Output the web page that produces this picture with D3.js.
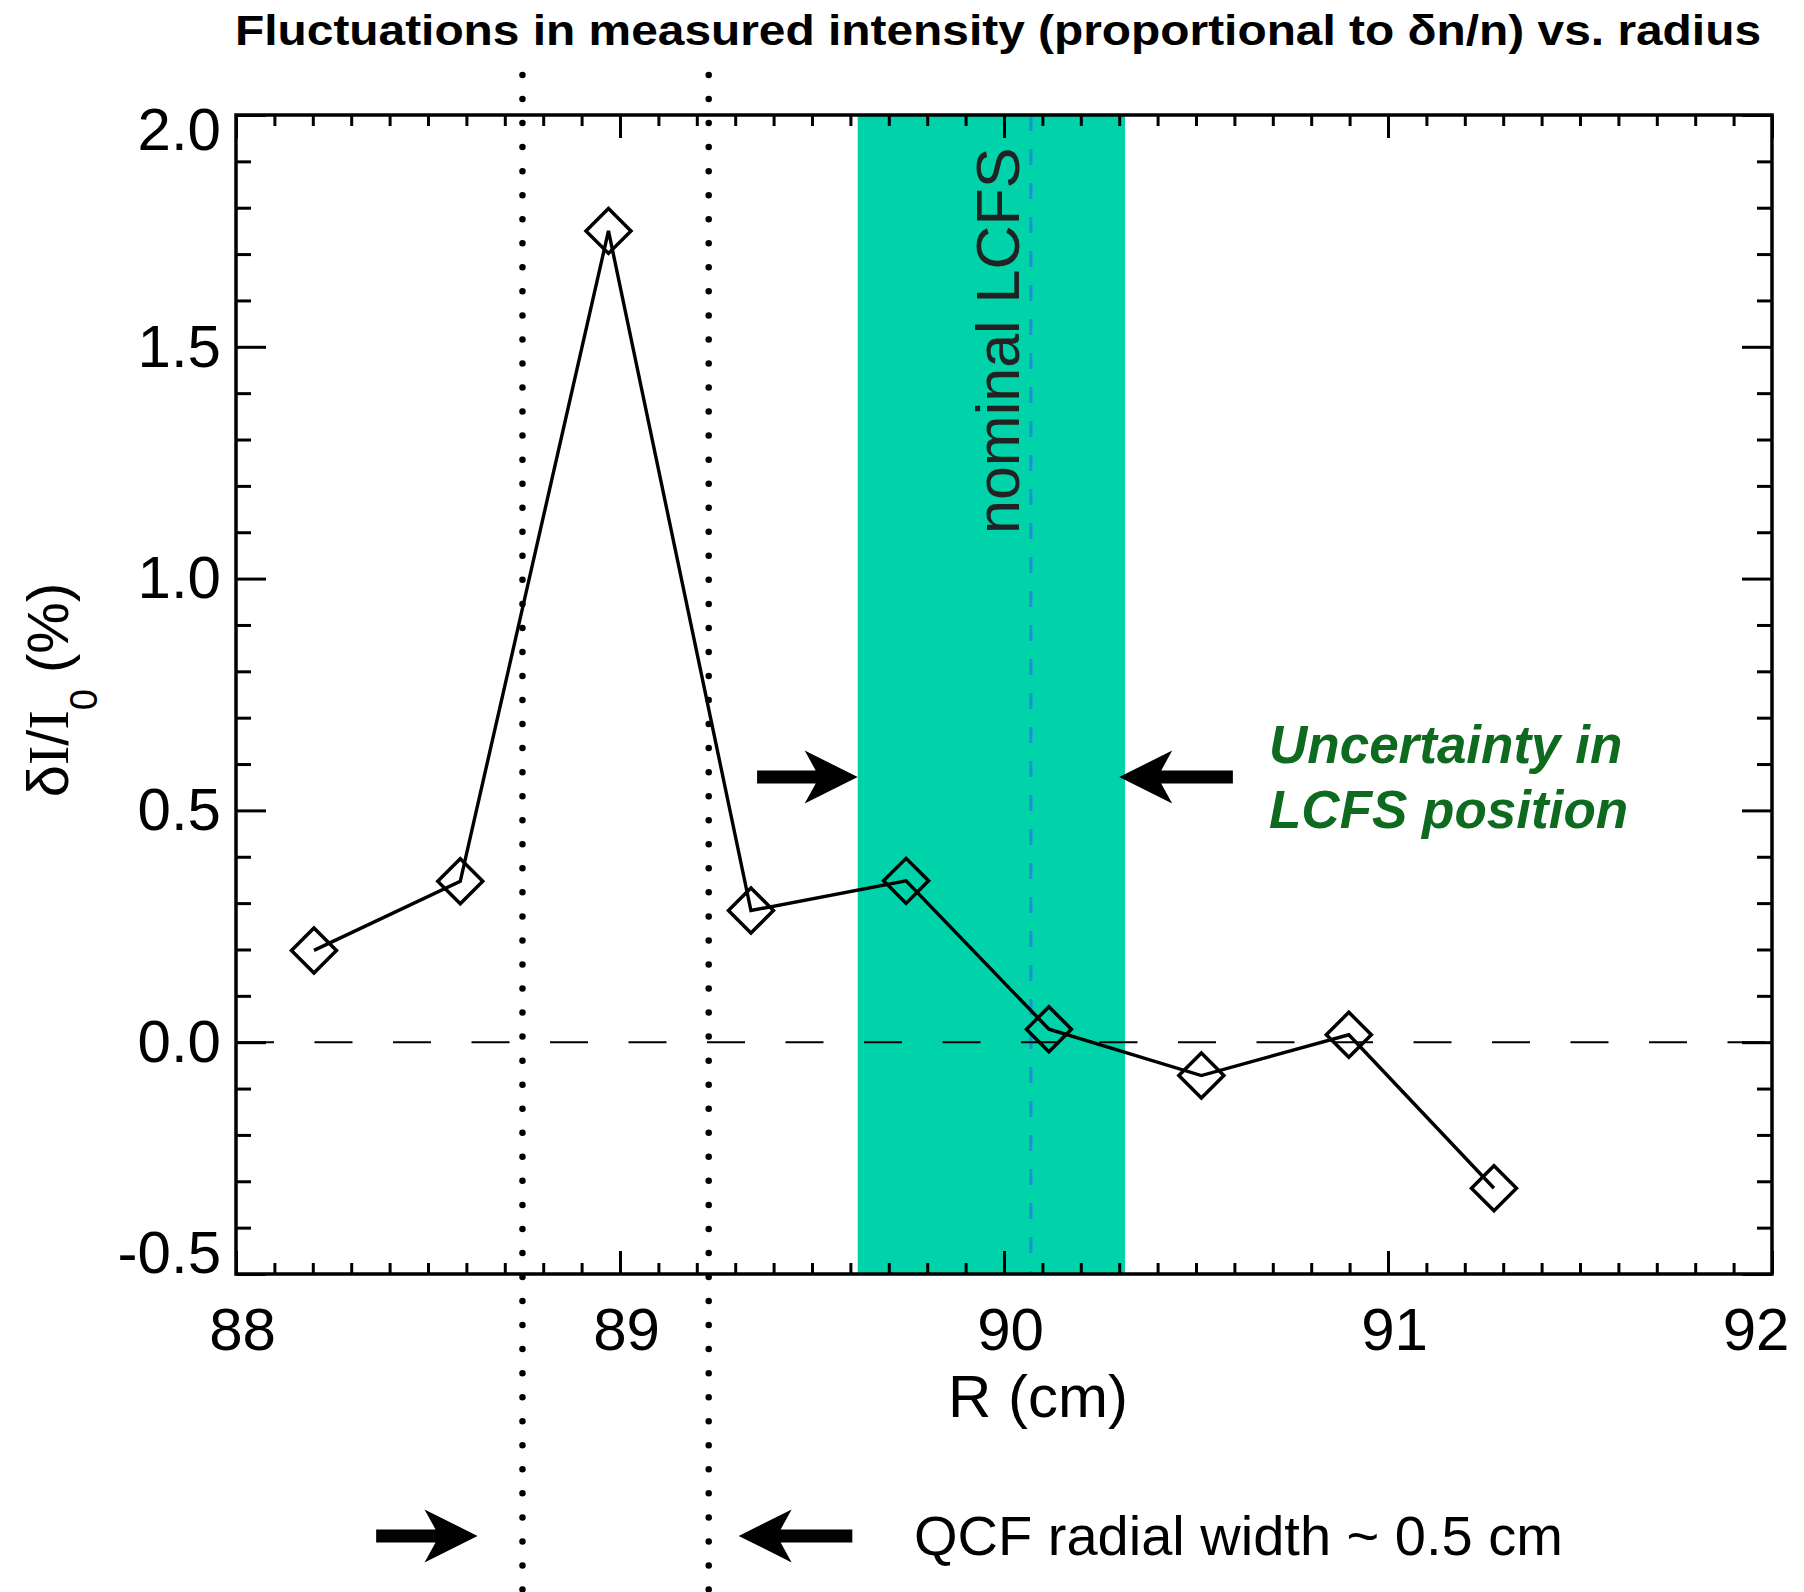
<!DOCTYPE html>
<html>
<head>
<meta charset="utf-8">
<script src="https://cdn.jsdelivr.net/npm/d3@7"></script>
<style>
  body { margin: 0; background: #fff; }
  text { font-family: "Liberation Sans", Arial, Helvetica, sans-serif; }
</style>
</head>
<body>
<div class="chart"></div>
<script>
// data
const radius = [88.203, 88.584, 88.970, 89.341, 89.745, 90.117, 90.514, 90.898, 91.276];
const deltaI = [0.198, 0.347, 1.750, 0.284, 0.348, 0.028, -0.072, 0.016, -0.315];

const xTicks = [88, 89, 90, 91, 92];
const yTicks = [-0.5, 0.0, 0.5, 1.0, 1.5, 2.0];

const qcfEdges = [88.746, 89.231];      // dotted lines
const lcfsBand = [89.619, 90.315];      // uncertainty band
const lcfsNominal = 90.07;              // blue dashed line

// arrows: [tail, tip, level]
const lcfsArrows = [[89.357, 89.619, 0.572], [90.596, 90.30, 0.572]];
const qcfArrows = [[88.365, 88.629, -1.065], [89.605, 89.309, -1.065]];

const WIDTH = 1804;
const HEIGHT = 1592;
const LEFT = 236, RIGHT = 1772, TOP = 115, BOTTOM = 1274;

const svg = d3.select(".chart")
  .append("svg")
  .attr("width", WIDTH)
  .attr("height", HEIGHT);

const x = d3.scaleLinear().domain([88, 92]).range([LEFT, RIGHT]);
const y = d3.scaleLinear().domain([-0.5, 2.0]).range([BOTTOM, TOP]);

// title
svg.append("text")
  .attr("x", 235)
  .attr("y", 45)
  .attr("textLength", 1526)
  .attr("lengthAdjust", "spacingAndGlyphs")
  .attr("font-size", 42)
  .attr("font-weight", "bold")
  .text("Fluctuations in measured intensity (proportional to δn/n) vs. radius");

// LCFS uncertainty band
svg.append("rect")
  .attr("x", x(lcfsBand[0]))
  .attr("y", TOP)
  .attr("width", x(lcfsBand[1]) - x(lcfsBand[0]))
  .attr("height", BOTTOM - TOP)
  .attr("fill", "#00d3aa");

svg.append("line")
  .attr("x1", x(lcfsNominal)).attr("x2", x(lcfsNominal))
  .attr("y1", TOP).attr("y2", BOTTOM)
  .attr("stroke", "#1f8fd6")
  .attr("stroke-width", 3)
  .attr("stroke-dasharray", "16 18");

svg.append("text")
  .attr("transform", `translate(${x(lcfsNominal) - 12},534) rotate(-90)`)
  .attr("font-size", 61)
  .attr("fill", "#222")
  .text("nominal LCFS");

// zero line
svg.append("line")
  .attr("x1", LEFT).attr("x2", RIGHT)
  .attr("y1", y(0)).attr("y2", y(0))
  .attr("stroke", "#000")
  .attr("stroke-width", 2)
  .attr("stroke-dasharray", "38 40.5");

// data
const pts = radius.map((r, i) => [r, deltaI[i]]);

svg.append("path")
  .datum(pts)
  .attr("fill", "none")
  .attr("stroke", "#000")
  .attr("stroke-width", 3.4)
  .attr("d", d3.line().x(d => x(d[0])).y(d => y(d[1])));

svg.selectAll(".pt")
  .data(pts)
  .join("path")
  .attr("class", "pt")
  .attr("transform", d => `translate(${x(d[0])},${y(d[1])}) rotate(45)`)
  .attr("d", d3.symbol(d3.symbolSquare, 1012))
  .attr("fill", "none")
  .attr("stroke", "#000")
  .attr("stroke-width", 3.5);

// QCF dotted lines
svg.selectAll(".qcf")
  .data(qcfEdges)
  .join("line")
  .attr("class", "qcf")
  .attr("x1", d => x(d)).attr("x2", d => x(d))
  .attr("y1", 75).attr("y2", HEIGHT)
  .attr("stroke", "#000")
  .attr("stroke-width", 6.5)
  .attr("stroke-linecap", "round")
  .attr("stroke-dasharray", "0 24.04");

// arrows
function arrow(a) {
  const tail = x(a[0]), tip = x(a[1]), yy = y(a[2]);
  const dir = tip > tail ? 1 : -1;
  const len = Math.abs(tip - tail);
  const p = [[0, 0], [-53, -26.5], [-42, -6.5], [-len, -6.5], [-len, 6.5], [-42, 6.5], [-53, 26.5]];
  return { t: `translate(${tip},${yy}) scale(${dir},1)`, d: "M" + p.join("L") + "Z" };
}

svg.selectAll(".arrow")
  .data(lcfsArrows.concat(qcfArrows).map(arrow))
  .join("path")
  .attr("class", "arrow")
  .attr("transform", d => d.t)
  .attr("d", d => d.d)
  .attr("fill", "#000");

// annotations
const note = svg.append("text")
  .attr("font-size", 53)
  .attr("font-weight", "bold")
  .attr("font-style", "italic")
  .attr("fill", "#0e6a1f");
note.append("tspan").attr("x", 1269).attr("y", 763).text("Uncertainty in");
note.append("tspan").attr("x", 1269).attr("y", 828).text("LCFS position");

svg.append("text")
  .attr("x", 914)
  .attr("y", 1555)
  .attr("font-size", 56)
  .text("QCF radial width ~ 0.5 cm");

// axes, ticks on all four sides pointing inward
const xMinor = d3.range(880, 921).map(d => d / 10).filter(d => !xTicks.includes(d));
const yMinor = d3.range(-5, 21).map(d => d / 10).filter(d => !yTicks.includes(d));

function clean(g) {
  g.select(".domain").remove();
  g.selectAll(".tick line").attr("stroke-width", 3);
}

const xAxis = svg.append("g")
  .attr("transform", `translate(0,${BOTTOM})`)
  .call(d3.axisBottom(x).tickValues(xTicks).tickSizeInner(-23).tickSizeOuter(0)
    .tickPadding(33).tickFormat(d3.format("d")))
  .call(clean);
xAxis.selectAll("text")
  .attr("font-size", 60)
  .attr("font-family", "Liberation Sans, Arial, sans-serif")
  .attr("dx", 6);
xAxis.select(".tick:last-of-type text").attr("text-anchor", "end").attr("dx", 17);

svg.append("g").attr("transform", `translate(0,${BOTTOM})`)
  .call(d3.axisBottom(x).tickValues(xMinor).tickSize(-11).tickFormat("")).call(clean);
svg.append("g").attr("transform", `translate(0,${TOP})`)
  .call(d3.axisTop(x).tickValues(xTicks).tickSize(-23).tickFormat("")).call(clean);
svg.append("g").attr("transform", `translate(0,${TOP})`)
  .call(d3.axisTop(x).tickValues(xMinor).tickSize(-11).tickFormat("")).call(clean);

const yAxis = svg.append("g")
  .attr("transform", `translate(${LEFT},0)`)
  .call(d3.axisLeft(y).tickValues(yTicks).tickSizeInner(-30).tickSizeOuter(0)
    .tickPadding(15).tickFormat(d => d.toFixed(1)))
  .call(clean);
yAxis.selectAll("text")
  .attr("font-size", 60)
  .attr("font-family", "Liberation Sans, Arial, sans-serif")
  .attr("transform", d => d === 2 ? "translate(0,15)" : d === -0.5 ? "translate(0,-21)" : null);

svg.append("g").attr("transform", `translate(${LEFT},0)`)
  .call(d3.axisLeft(y).tickValues(yMinor).tickSize(-15).tickFormat("")).call(clean);
svg.append("g").attr("transform", `translate(${RIGHT},0)`)
  .call(d3.axisRight(y).tickValues(yTicks).tickSize(-30).tickFormat("")).call(clean);
svg.append("g").attr("transform", `translate(${RIGHT},0)`)
  .call(d3.axisRight(y).tickValues(yMinor).tickSize(-15).tickFormat("")).call(clean);

// frame
svg.append("rect")
  .attr("x", LEFT).attr("y", TOP)
  .attr("width", RIGHT - LEFT).attr("height", BOTTOM - TOP)
  .attr("fill", "none")
  .attr("stroke", "#000")
  .attr("stroke-width", 3.5);

// axis titles
svg.append("text")
  .attr("x", 1038)
  .attr("y", 1417)
  .attr("text-anchor", "middle")
  .attr("font-size", 60)
  .text("R (cm)");

const yLab = svg.append("text")
  .attr("transform", "translate(68,690) rotate(-90)")
  .attr("text-anchor", "middle")
  .attr("font-size", 58);
yLab.append("tspan").text("δ");
yLab.append("tspan").attr("font-family", "Liberation Serif, serif").text("I");
yLab.append("tspan").text("/");
yLab.append("tspan").attr("font-family", "Liberation Serif, serif").text("I");
yLab.append("tspan").attr("font-size", 38).attr("dy", 29).text("0");
yLab.append("tspan").attr("dy", -29).text(" (%)");
</script>
</body>
</html>
